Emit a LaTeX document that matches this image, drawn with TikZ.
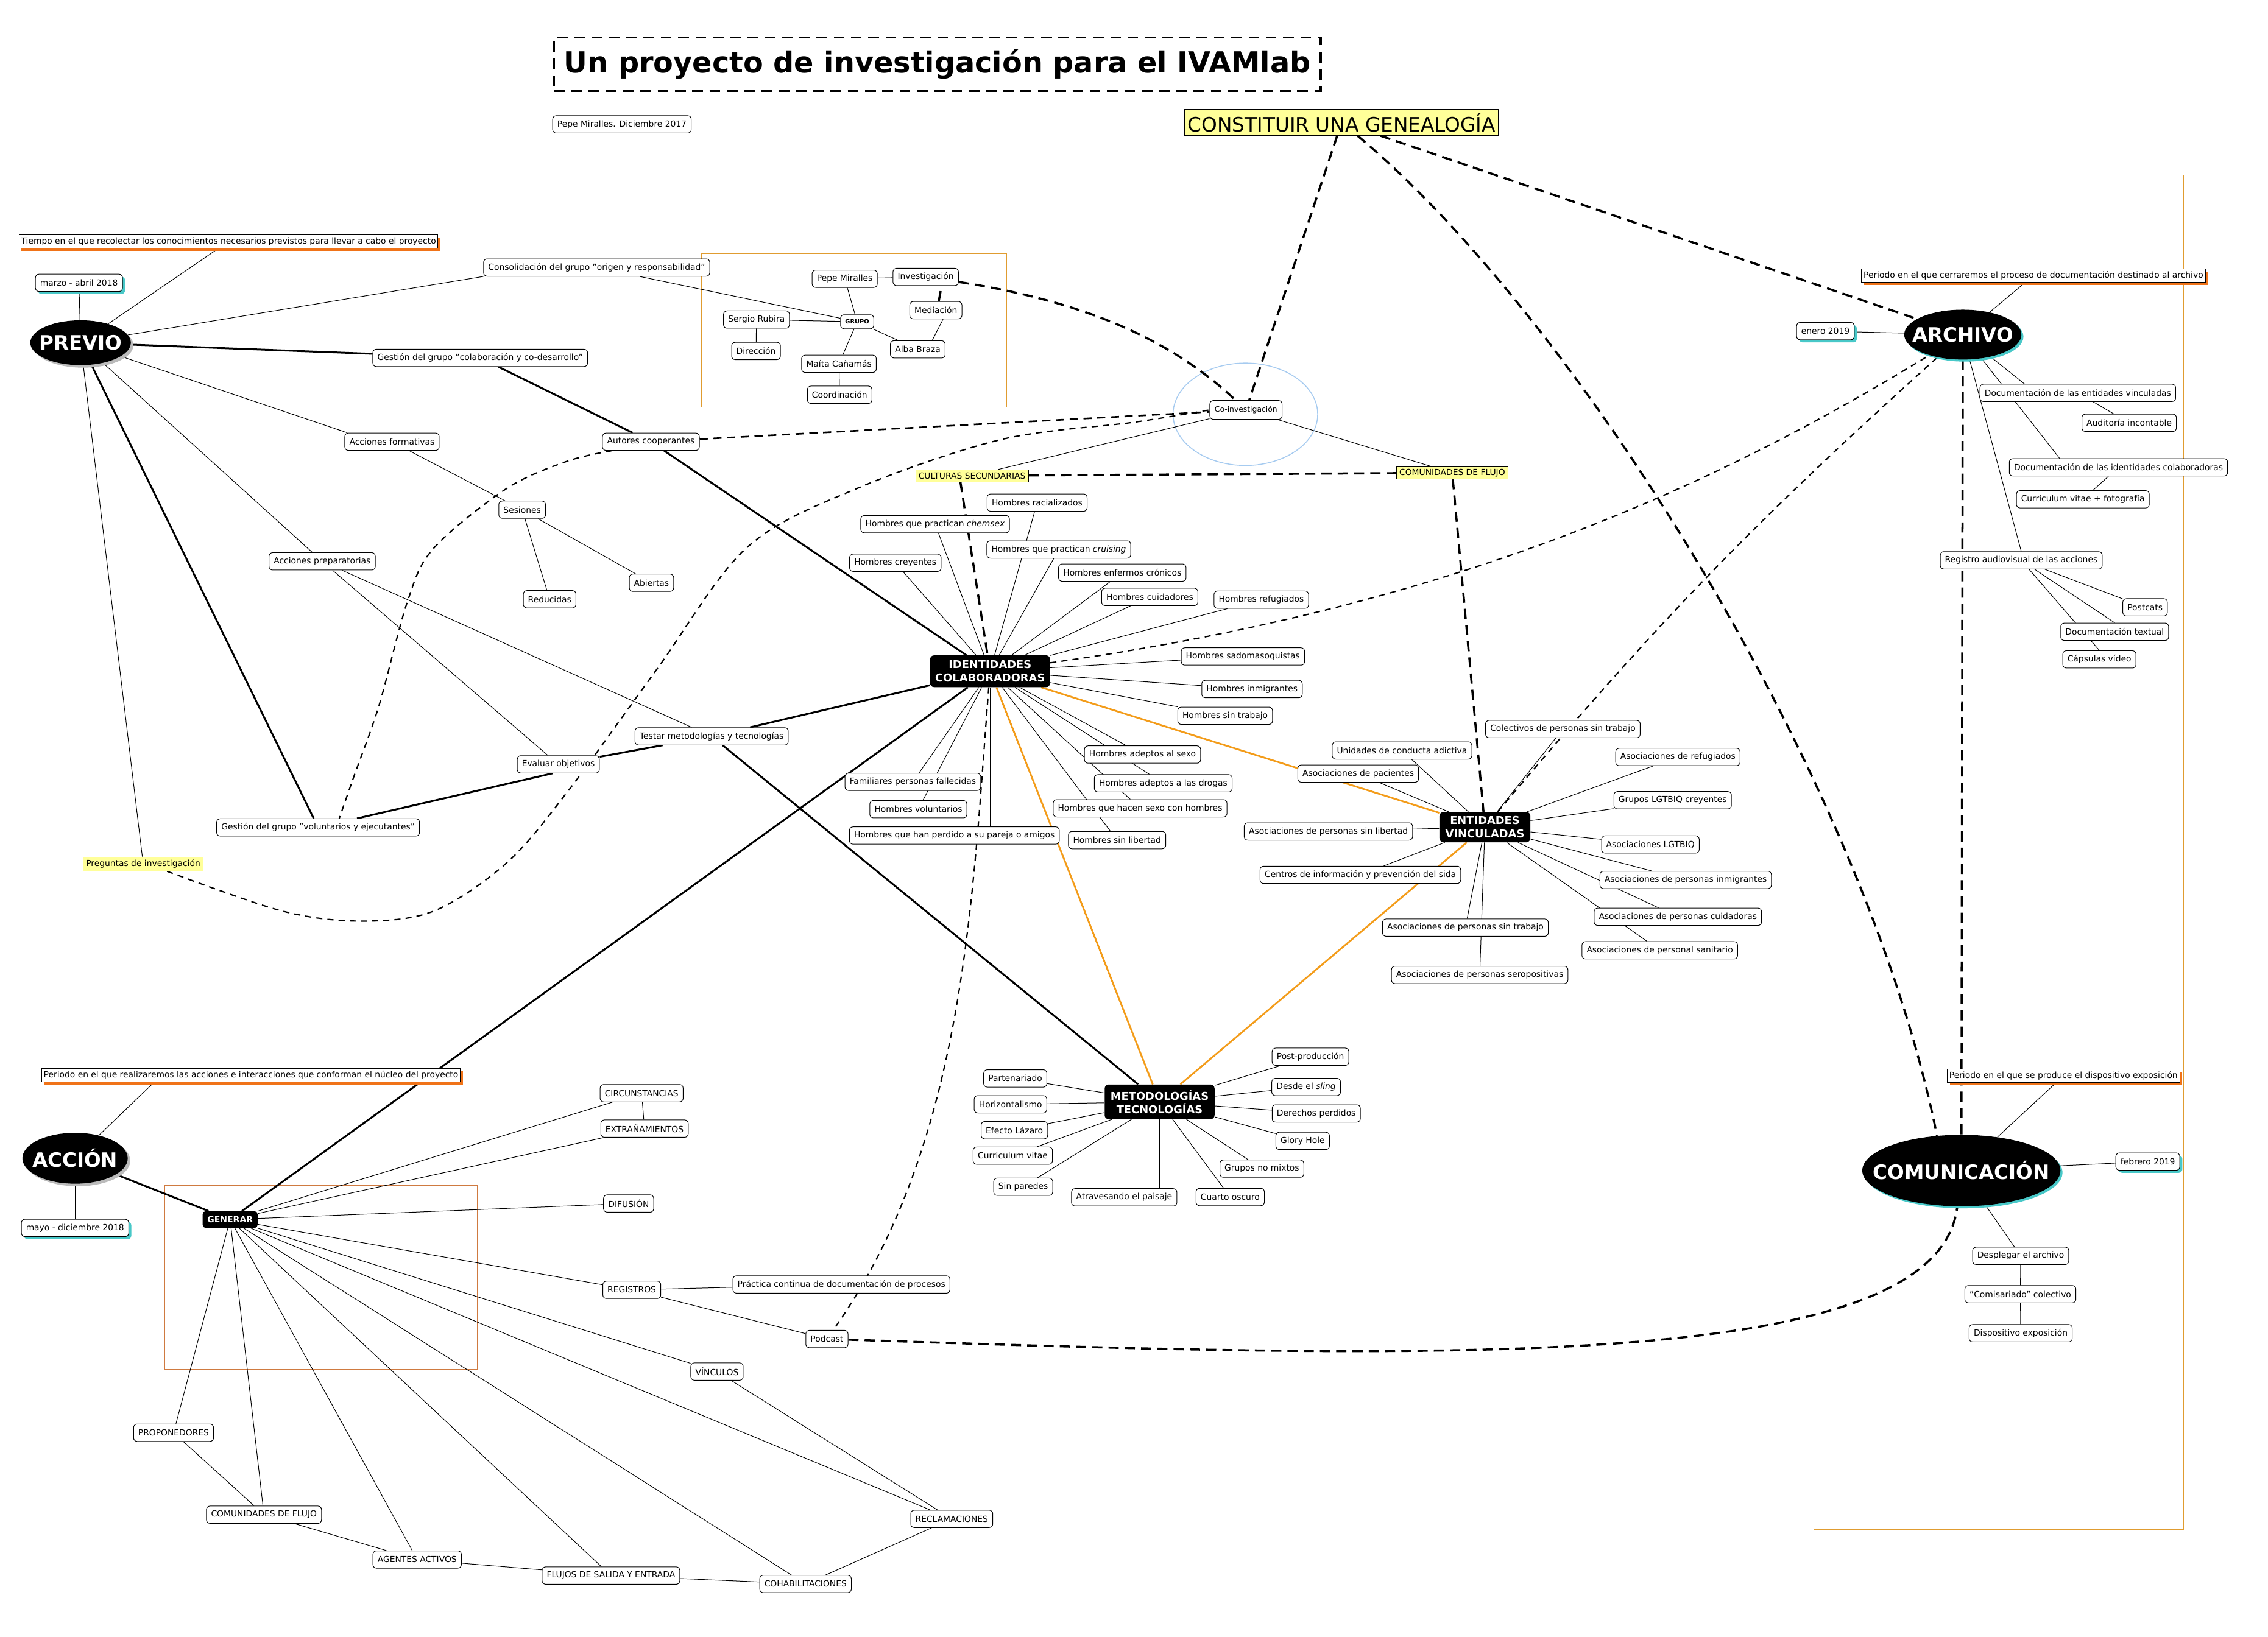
\documentclass[tikz,border=0pt]{standalone}
\usepackage{fontspec}
\setmainfont{DejaVu Sans}
\usetikzlibrary{shapes.geometric,shadows,calc}
\definecolor{yelc}{HTML}{FFFF99}
\definecolor{goldf}{HTML}{E09C30}
\definecolor{brownf}{HTML}{CF7A40}
\definecolor{orsh}{HTML}{F07318}
\definecolor{cyansh}{HTML}{48C8C8}
\definecolor{greysh}{HTML}{BBBBBB}
\definecolor{orline}{HTML}{F39C1A}
\definecolor{blueel}{HTML}{A6CBF0}
\newcommand\myN{\fontsize{8.3}{10}\selectfont}
\newcommand\myB{\bfseries\fontsize{10.7}{13}\selectfont}
\newcommand\myE{\bfseries\fontsize{19.5}{22}\selectfont}
\newcommand\myT{\bfseries\fontsize{28.6}{32}\selectfont}
\newcommand\myC{\fontsize{19.6}{22}\selectfont}
\newcommand\myG{\bfseries\fontsize{8.4}{10}\selectfont}
\newcommand\myS{\bfseries\fontsize{5.9}{7}\selectfont}
\newcommand\myCo{\fontsize{7.4}{9}\selectfont}
\pgfdeclarelayer{bg}
\pgfsetlayers{bg,main}
\tikzset{
 bx/.style={draw, line width=0.6pt, rounded corners=3.5pt, fill=white, font=\myN, inner xsep=4.6pt, inner ysep=0pt, minimum height=6mm},
 dat/.style={bx, drop shadow={shadow xshift=2.5pt, shadow yshift=-2.5pt, fill=cyansh, opacity=1}},
 per/.style={draw, line width=0.6pt, fill=white, font=\myN, inner xsep=2pt, inner ysep=0pt, minimum height=4.6mm, drop shadow={shadow xshift=2.5pt, shadow yshift=-2.5pt, fill=orsh, opacity=1}},
 yel/.style={draw, line width=0.6pt, fill=yelc, font=\myN, inner xsep=2.8pt, inner ysep=0pt, minimum height=4.2mm},
 blk/.style={fill=black, text=white, rounded corners=4pt, font=\myB, align=center, inner sep=0pt},
 ell/.style={ellipse, fill=black, text=white, font=\myE, inner sep=0pt},
 gsh/.style={drop shadow={shadow xshift=2.5pt, shadow yshift=-2.5pt, fill=greysh, opacity=1}},
 csh/.style={drop shadow={shadow xshift=2pt, shadow yshift=-2pt, fill=cyansh, opacity=1}},
 ln/.style={line width=0.6pt},
 tk/.style={line width=1.8pt},
 orl/.style={line width=1.7pt, draw=orline},
 dk/.style={line width=2.1pt, dash pattern=on 10pt off 6pt},
 dm/.style={line width=1.6pt, dash pattern=on 8pt off 5.5pt},
 dt/.style={line width=1.3pt, dash pattern=on 6pt off 5pt},
 fr/.style={line width=0.9pt},
}
\begin{document}
\begin{tikzpicture}[x=0.5mm, y=-0.5mm]
\useasboundingbox (0,0) rectangle (1568,1132);
% ---------- title ----------
\node[draw, line width=2.1pt, dash pattern=on 10.5pt off 6.5pt, minimum width=265mm, minimum height=18.5mm, inner sep=0pt, font=\myT] (title) at (648,44.5) {Un proyecto de investigación para el IVAMlab};
\node[bx] (autor) at (430,86) {Pepe Miralles. Diciembre 2017};
\node[draw, line width=0.6pt, fill=yelc, font=\myC, inner xsep=3pt, inner ysep=0pt, minimum height=9mm] (const) at (927.5,84.7) {CONSTITUIR UNA GENEALOGÍA};
% ---------- PREVIO ----------
\node[per] (tiempo) at (158,167) {Tiempo en el que recolectar los conocimientos necesarios previstos para llevar a cabo el proyecto};
\node[dat] (marzo) at (54.6,195.6) {marzo - abril 2018};
\node[ell, gsh, minimum width=34.75mm, minimum height=15.5mm] (previo) at (55.7,237) {\makebox[0pt]{PREVIO}};
\node[bx] (consol) at (412.5,185) {Consolidación del grupo "origen y responsabilidad"};
\node[bx] (gco) at (332,247.5) {Gestión del grupo "colaboración y co-desarrollo"};
\node[bx] (accform) at (271,305.5) {Acciones formativas};
\node[bx] (sesiones) at (361,352.5) {Sesiones};
\node[bx] (reduc) at (380,414.4) {Reducidas};
\node[bx] (abier) at (450.4,403) {Abiertas};
\node[bx] (accprep) at (222.75,388.2) {Acciones preparatorias};
\node[bx] (auto) at (450,305.5) {Autores cooperantes};
\node[bx] (evaluar) at (386,528.6) {Evaluar objetivos};
\node[bx] (testar) at (492,509.2) {Testar metodologías y tecnologías};
\node[bx] (gvol) at (219.9,572.2) {Gestión del grupo "voluntarios y ejecutantes"};
\node[yel, minimum height=4.85mm] (preg) at (99,597.5) {Preguntas de investigación};
% ---------- GRUPO ----------
\node[bx] (pepem) at (584,192.8) {Pepe Miralles};
\node[bx] (inv) at (640,191.5) {Investigación};
\node[bx] (sergio) at (523,221) {Sergio Rubira};
\node[bx, font=\myS, minimum height=4.85mm, minimum width=11.5mm, inner xsep=1pt] (grupo) at (592.6,222.5) {GRUPO};
\node[bx] (med) at (647,214.5) {Mediación};
\node[bx] (dir) at (522.7,242.7) {Dirección};
\node[bx] (alba) at (634.5,241.6) {Alba Braza};
\node[bx] (maita) at (580,251.6) {Maíta Cañamás};
\node[bx] (coord) at (580.5,273) {Coordinación};
% ---------- co-investigacion ----------
\node[bx, font=\myCo, minimum height=6.5mm, inner xsep=4.8pt] (coinv) at (861.4,283.5) {Co-investigación};
\node[yel] (cult) at (672,329) {CULTURAS SECUNDARIAS};
\node[yel] (comf) at (1004,327) {COMUNIDADES DE FLUJO};
% ---------- IDENTIDADES ----------
\node[blk, minimum width=41.5mm, minimum height=11mm] (iden) at (684.5,464.2) {IDENTIDADES\\COLABORADORAS};
\node[bx] (raci) at (717,347.6) {Hombres racializados};
\node[bx] (chem) at (646.5,362.5) {Hombres que practican \emph{chemsex}};
\node[bx] (crui) at (732,380) {Hombres que practican \emph{cruising}};
\node[bx] (crey) at (619,389.2) {Hombres creyentes};
\node[bx] (enf) at (775.9,396) {Hombres enfermos crónicos};
\node[bx] (cuid) at (794.9,412.8) {Hombres cuidadores};
\node[bx] (refu) at (872,414.7) {Hombres refugiados};
\node[bx] (sado) at (859.3,454) {Hombres sadomasoquistas};
\node[bx] (inmi) at (865.6,476.5) {Hombres inmigrantes};
\node[bx] (sintr) at (847,495) {Hombres sin trabajo};
\node[bx] (asexo) at (789.9,521.8) {Hombres adeptos al sexo};
\node[bx] (adrog) at (804.2,541.7) {Hombres adeptos a las drogas};
\node[bx] (hsh) at (788.2,559) {Hombres que hacen sexo con hombres};
\node[bx] (sinlib) at (772.3,581) {Hombres sin libertad};
\node[bx] (fami) at (631.1,540.7) {Familiares personas fallecidas};
\node[bx] (volu) at (634.9,559.6) {Hombres voluntarios};
\node[bx] (perd) at (659.8,577.8) {Hombres que han perdido a su pareja o amigos};
% ---------- ENTIDADES ----------
\node[blk, minimum width=31.4mm, minimum height=10.5mm] (ent) at (1026.6,572) {ENTIDADES\\VINCULADAS};
\node[bx] (colect) at (1080.5,504.2) {Colectivos de personas sin trabajo};
\node[bx] (unid) at (969.3,519) {Unidades de conducta adictiva};
\node[bx] (apac) at (939,535) {Asociaciones de pacientes};
\node[bx] (aref) at (1160,523.5) {Asociaciones de refugiados};
\node[bx] (glc) at (1156.4,553.4) {Grupos LGTBIQ creyentes};
\node[bx] (algt) at (1141,584) {Asociaciones LGTBIQ};
\node[bx] (ainm) at (1165.4,608.5) {Asociaciones de personas inmigrantes};
\node[bx] (acui) at (1160,634) {Asociaciones de personas cuidadoras};
\node[bx] (asan) at (1147.5,657.2) {Asociaciones de personal sanitario};
\node[bx] (aslib) at (918.4,575) {Asociaciones de personas sin libertad};
\node[bx] (centros) at (940.5,605) {Centros de información y prevención del sida};
\node[bx] (astr) at (1013.1,641.5) {Asociaciones de personas sin trabajo};
\node[bx] (asero) at (1023,674.2) {Asociaciones de personas seropositivas};
% ---------- METODOLOGIAS ----------
\node[blk, minimum width=38mm, minimum height=12mm] (metod) at (801.7,762) {METODOLOGÍAS\\TECNOLOGÍAS};
\node[bx] (part) at (701.9,745.8) {Partenariado};
\node[bx] (hori) at (698.6,763.7) {Horizontalismo};
\node[bx] (laz) at (701.3,781.6) {Efecto Lázaro};
\node[bx] (cvit) at (700.2,799.2) {Curriculum vitae};
\node[bx] (sinp) at (707.4,820.7) {Sin paredes};
\node[bx] (atra) at (777.2,828) {Atravesando el paisaje};
\node[bx] (cuar) at (850.5,827.8) {Cuarto oscuro};
\node[bx] (gnm) at (872.4,808.2) {Grupos no mixtos};
\node[bx] (glory) at (900.6,789) {Glory Hole};
\node[bx] (dere) at (910,770) {Derechos perdidos};
\node[bx] (sling) at (903,751.7) {Desde el \emph{sling}};
\node[bx] (post) at (906,730.8) {Post-producción};
% ---------- ARCHIVO ----------
\node[per] (perarch) at (1405.8,190.6) {Periodo en el que cerraremos el proceso de documentación destinado al archivo};
\node[ell, csh, minimum width=40.5mm, minimum height=17.25mm] (arch) at (1357,231.4) {\makebox[0pt]{ARCHIVO}};
\node[dat] (enero) at (1262,229) {enero 2019};
\node[bx] (docent) at (1436.5,271.7) {Documentación de las entidades vinculadas};
\node[bx] (audit) at (1472,292.4) {Auditoría incontable};
\node[bx] (docid) at (1464.6,323.2) {Documentación de las identidades colaboradoras};
\node[bx] (cvfoto) at (1440,345.3) {Curriculum vitae + fotografía};
\node[bx] (regis) at (1397.4,387.5) {Registro audiovisual de las acciones};
\node[bx] (postc) at (1483,420) {Postcats};
\node[bx] (doctext) at (1462,436.9) {Documentación textual};
\node[bx] (caps) at (1451.4,456) {Cápsulas vídeo};
% ---------- COMUNICACION ----------
\node[per] (perexp) at (1426.6,744) {Periodo en el que se produce el dispositivo exposición};
\node[ell, csh, minimum width=68.5mm, minimum height=24.7mm] (com) at (1356,809.5) {\makebox[0pt]{COMUNICACIÓN}};
\node[dat] (feb) at (1484.9,803.3) {febrero 2019};
\node[bx] (despl) at (1397,868.5) {Desplegar el archivo};
\node[bx] (comis) at (1396.8,895) {"Comisariado" colectivo};
\node[bx] (dispo) at (1397,922) {Dispositivo exposición};
% ---------- ACCION ----------
\node[per] (peracc) at (173.5,743.6) {Periodo en el que realizaremos las acciones e interacciones que conforman el núcleo del proyecto};
\node[ell, gsh, minimum width=36.4mm, minimum height=17.6mm] (accion) at (51.9,801) {\makebox[0pt]{ACCIÓN}};
\node[dat] (mayo) at (51.9,849.2) {mayo - diciembre 2018};
\node[blk, font=\myG, rounded corners=3pt, minimum width=19mm, minimum height=5.8mm] (gen) at (159.1,843.4) {GENERAR};
\node[bx] (circ) at (443.6,756) {CIRCUNSTANCIAS};
\node[bx] (extr) at (445.6,780.5) {EXTRAÑAMIENTOS};
\node[bx] (difu) at (434.6,832.3) {DIFUSIÓN};
\node[bx] (regi) at (436.8,892) {REGISTROS};
\node[bx] (pract) at (581.7,888.3) {Práctica continua de documentación de procesos};
\node[bx] (podc) at (571.7,926) {Podcast};
\node[bx] (vinc) at (495.7,948.5) {VÍNCULOS};
\node[bx] (recl) at (658,1050.4) {RECLAMACIONES};
\node[bx] (cohab) at (556.9,1095.4) {COHABILITACIONES};
\node[bx] (flujos) at (422.4,1089.6) {FLUJOS DE SALIDA Y ENTRADA};
\node[bx] (prop) at (120,990.8) {PROPONEDORES};
\node[bx] (comfl) at (182.5,1047.5) {COMUNIDADES DE FLUJO};
\node[bx] (agen) at (288.4,1078.5) {AGENTES ACTIVOS};
% ================= background: frames and connectors =================
\begin{pgfonlayer}{bg}
\fill[white] (0,0) rectangle (1568,1132);
\draw[fr, draw=goldf] (485,175.4) rectangle (696,281.6);
\draw[fr, draw=goldf] (1254,121) rectangle (1509.5,1057.6);
\draw[fr, draw=brownf] (114,820) rectangle (330.25,947.2);
\draw[line width=0.9pt, draw=blueel] (861,286.5) ellipse [x radius=25mm, y radius=17.7mm];
% PREVIO
\draw[ln] (tiempo) -- (previo);
\draw[ln] (marzo) -- (previo);
\draw[ln] (previo) -- (consol.south west);
\draw[ln] (previo) -- ([xshift=1mm]accform.north west);
\draw[ln] (previo) -- (accprep);
\draw[ln] (previo) -- (preg);
\draw[ln] (accform) -- (sesiones);
\draw[ln] (sesiones) -- (reduc);
\draw[ln] (sesiones) -- (abier);
\draw[ln] (accprep) -- (evaluar);
\draw[ln] (accprep) -- (testar);
\draw[ln] (consol) -- (grupo);
\draw[tk] (previo) -- (gco);
\draw[tk] (gco) -- (auto);
\draw[tk] (auto) -- (iden);
\draw[tk] (previo) -- (gvol);
\draw[tk] (gvol) -- ([xshift=-2mm]evaluar.south);
\draw[tk] (evaluar) -- (testar);
\draw[tk] (testar) -- (iden);
\draw[tk] (testar) -- (metod);
\draw[tk] (iden) -- (gen);
\draw[tk] (accion) -- (gen);
% GRUPO
\draw[ln] (pepem) -- (inv);
\draw[ln] (pepem) -- (grupo);
\draw[ln] (sergio) -- (grupo);
\draw[ln] (sergio) -- (dir);
\draw[ln] (grupo) -- (maita);
\draw[ln] (grupo) -- (alba);
\draw[ln] ([xshift=5mm]alba.north) -- ([xshift=2.5mm]med.south);
\draw[ln] (maita) -- (coord);
\draw[dk] ([xshift=1mm]med.north) -- ([xshift=5.5mm]inv.south);
% co-investigacion
\draw[ln] (cult) -- (coinv);
\draw[ln] (coinv) -- (comf);
\draw[dk] (const) -- (coinv);
\draw[dk] (const) -- (arch);
\draw[dk] (const) .. controls (1090,220) and (1290,540) .. (com.125);
\draw[dk] (arch) -- (com);
\draw[dk] (inv) .. controls (760,210) and (815,240) .. (coinv);
\draw[dk] (cult) -- (comf);
\draw[dk] ([xshift=-4mm]cult.south) -- (iden);
\draw[dk] (comf) -- (ent);
\draw[dk] (podc) .. controls (1000,940) and (1340,950) .. (com);
\draw[dm] (auto) -- (coinv);
\draw[dt] plot[smooth, tension=0.55] coordinates {(preg.-17) (195,630) (250,637) (300,630) (350,597) (392,548) (454,463) (516,379) (592,338) (692,304) (784,292) (coinv.west)};
\draw[dt] plot[smooth, tension=0.55] coordinates {(auto.193) (392,319) (350,338) (300,379) (282,415) (262,488) (245,536) (gvol.23)};
\draw[dt] (iden) .. controls (1000,420) and (1180,340) .. (arch);
\draw[dt] (ent) to[bend left=4] (arch);
\draw[dt] (iden) .. controls (672,620) and (668,790) .. (podc);
% IDENTIDADES
\foreach \n in {raci,chem,crui,crey,enf,cuid,refu,sado,inmi,sintr,asexo,adrog,hsh,sinlib,fami,volu}
  \draw[ln] (iden) -- (\n);
\draw[ln] (iden) -- (iden |- perd.north);
\draw[orl] (iden) -- (ent);
\draw[orl] (iden) -- (metod);
\draw[orl] (ent) -- (metod);
% ENTIDADES
\foreach \n in {colect,unid,apac,aref,glc,algt,ainm,acui,asan,aslib,centros,astr,asero}
  \draw[ln] (ent) -- (\n);
% METODOLOGIAS
\foreach \n in {part,hori,laz,cvit,sinp,cuar,gnm,glory,dere,sling,post}
  \draw[ln] (metod) -- (\n);
\draw[ln] (metod) -- (metod |- atra.north);
% ARCHIVO
\draw[ln] (perarch) -- (arch);
\draw[ln] (enero) -- (arch);
\draw[ln] (arch) -- ([xshift=15.5mm]docent.north west);
\draw[ln] (docent) -- (audit);
\draw[ln] (arch) -- ([xshift=17.5mm]docid.north west);
\draw[ln] (docid) -- (cvfoto);
\draw[ln] (arch) -- (regis.north);
\draw[ln] (regis) -- (postc);
\draw[ln] (regis) -- (doctext.north);
\draw[ln] (regis) -- (caps.north);
% COMUNICACION
\draw[ln] (perexp) -- (com);
\draw[ln] (com) -- (feb);
\draw[ln] (com) -- (despl);
\draw[ln] (despl) -- (comis);
\draw[ln] (comis) -- (dispo);
% ACCION
\draw[ln] (accion) -- ([xshift=39mm]peracc.south west);
\draw[ln] (accion) -- (mayo);
\foreach \n in {circ,extr,difu,regi,vinc,recl,cohab,flujos,agen,comfl,prop}
  \draw[ln] (gen) -- (\n);
\draw[ln] (circ) -- (extr);
\draw[ln] (regi) -- (pract);
\draw[ln] (regi) -- (podc);
\draw[ln] (vinc) -- (recl);
\draw[ln] (recl) -- (cohab);
\draw[ln] (flujos) -- (cohab);
\draw[ln] (agen) -- (flujos);
\draw[ln] (comfl) -- (agen);
\draw[ln] (prop) -- (comfl);
\end{pgfonlayer}
\end{tikzpicture}
\end{document}
